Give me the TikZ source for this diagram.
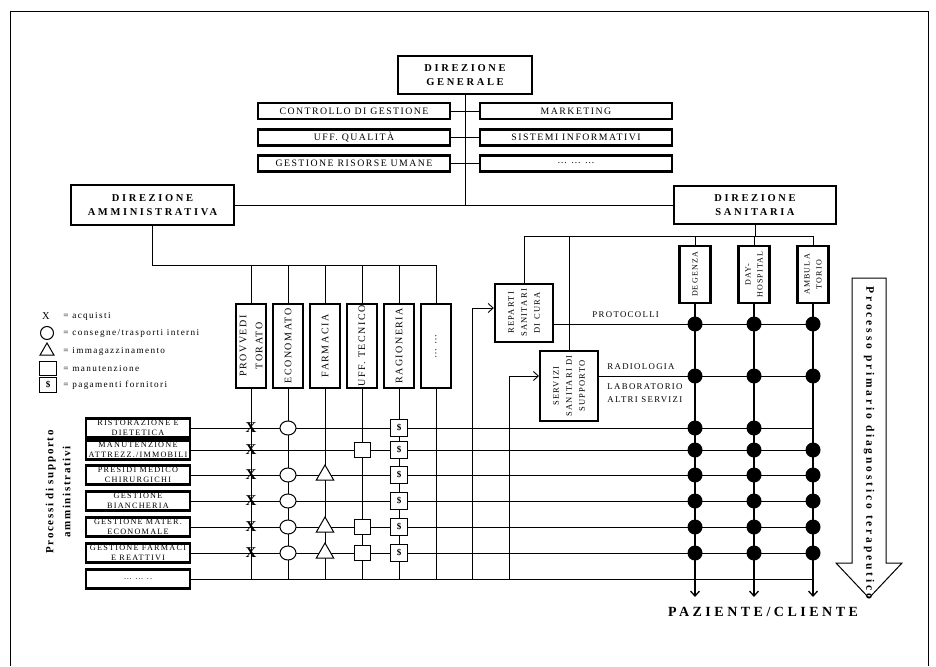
\documentclass[tikz,border=0pt]{standalone}
\usepackage{fontspec}
\setmainfont{Liberation Serif}
\newfontfamily\spaced[LetterSpace=15]{Liberation Serif}
\newfontfamily\wide[LetterSpace=25]{Liberation Serif}
\usetikzlibrary{arrows.meta,shapes.geometric}

\tikzset{
  dirbox/.style={draw,line width=2.6pt,fill=white,inner sep=1pt,align=center,
    font=\wide\bfseries\fontsize{10.5}{14}\selectfont},
  staffbox/.style={draw,line width=2.2pt,fill=white,inner sep=0pt,
    minimum width=192,minimum height=16,font=\spaced\fontsize{9.8}{10}\selectfont},
  unitbox/.style={draw,line width=2.4pt,fill=white,rotate=90,inner sep=0pt,align=center,
    minimum width=84,minimum height=30,font=\spaced\fontsize{10}{16}\selectfont},
  wardbox/.style={unitbox,minimum width=57,minimum height=31,font=\spaced\fontsize{8}{12}\selectfont},
  procbox/.style={draw,line width=2.2pt,fill=white,inner sep=0pt,align=center,
    minimum width=104,minimum height=19,font=\spaced\fontsize{8.2}{9.5}\selectfont},
  lbl/.style={inner sep=0pt,align=left,font=\spaced\fontsize{8.8}{12.5}\selectfont},
  xmark/.style={inner sep=0pt,font=\bfseries\fontsize{15}{15}\selectfont},
  ring/.style={draw,ellipse,fill=white,minimum width=16,minimum height=14,inner sep=0pt,line width=1pt},
  stock/.style={draw,regular polygon,regular polygon sides=3,fill=white,minimum size=20,inner sep=0pt,line width=1pt},
  fix/.style={draw,fill=white,minimum width=16,minimum height=15,inner sep=0pt,line width=1pt},
  pay/.style={fix,minimum width=17,minimum height=17,font=\bfseries\fontsize{9}{9}\selectfont},
  dot/.style={circle,fill=black,minimum size=15,inner sep=0pt},
  outarrow/.style={-{Straight Barb[length=5pt,width=9pt]}},
}

\begin{document}
\begin{tikzpicture}[x=1pt,y=-1pt,line width=0.9pt]
\useasboundingbox (0,0) rectangle (936,666);
\draw[line width=1pt] (10,666) -- (10,12) -- (928,12) -- (928,666);

% vertice
\node[dirbox,minimum width=134,minimum height=38] (dg) at (465,75) {DIREZIONE\\GENERALE};
\node[staffbox] (cg) at (354,111) {CONTROLLO DI GESTIONE};
\node[staffbox] (mk) at (576,111) {MARKETING};
\node[staffbox] (uq) at (354,137.5) {UFF. QUALITÀ};
\node[staffbox] (si) at (576,137.5) {SISTEMI INFORMATIVI};
\node[staffbox] (gr) at (354,163.5) {GESTIONE RISORSE UMANE};
\node[staffbox] (ec) at (576,163.5) {\dots\ \dots\ \dots};
\node[dirbox,minimum width=163,minimum height=40] (da) at (152.5,205) {DIREZIONE\\AMMINISTRATIVA};
\node[dirbox,minimum width=162,minimum height=38] (ds) at (755,205) {DIREZIONE\\SANITARIA};

\draw (dg.south) -- (dg.south |- da.east);
\draw (da) -- (ds);
\foreach \l/\r in {cg/mk,uq/si,gr/ec}
  \draw (\l.east) -- (\r.west);

% direzione amministrativa: uffici
\coordinate (ammbus) at (436,265);
\coordinate (gridbot) at (813,579);
\draw (da.south) |- (ammbus);
\foreach \txt [count=\i] in {{PROVVEDI\\TORATO},ECONOMATO,FARMACIA,{UFF. TECNICO},RAGIONERIA,{\dots\ \dots}}{
  \node[unitbox] (col\i) at (214+37*\i,346) {\txt};
  \draw (col\i.east) -- (col\i.east |- ammbus);
  \draw (col\i.west) -- (col\i.west |- gridbot);
}

% processi di supporto
\foreach \y/\txt [count=\r] in {428/{RISTORAZIONE E\\DIETETICA},450/{MANUTENZIONE\\ATTREZZ./IMMOBILI},
    475/{PRESIDI MEDICO\\CHIRURGICHI},501/{GESTIONE\\BIANCHERIA},527/{GESTIONE MATER.\\ECONOMALE},
    553/{GESTIONE FARMACI\\E REATTIVI},579/{\dots\ \dots\ ..}}{
  \node[procbox] (row\r) at (138,\y) {\txt};
  \draw (row\r.east) -- (row\r.east -| gridbot);
}
\node[rotate=90,align=center,font=\spaced\bfseries\fontsize{11}{17}\selectfont] (supp) at (58,492)
  {Processi di supporto\\amministrativi};

% direzione sanitaria
\coordinate (sanbus) at (523,236);
\coordinate (prot) at (813,324);
\coordinate (radio) at (813,376);
\coordinate (outp) at (813,597);
\coordinate (feedA) at (472,579);
\coordinate (feedB) at (509,579);
\node[unitbox,minimum width=58,minimum height=58,font=\spaced\fontsize{8.5}{13}\selectfont] (rep) at (524,313)
  {REPARTI\\SANITARI\\DI CURA};
\node[unitbox,line width=2pt,minimum width=70,minimum height=58,font=\spaced\fontsize{8.5}{13}\selectfont] (srv) at (569,386)
  {SERVIZI\\SANITARI DI\\SUPPORTO};
\node[wardbox] (deg) at (695,274.5) {DEGENZA};
\node[wardbox] (dh) at (754,274.5) {DAY-\\HOSPITAL};
\node[wardbox] (amb) at (813,274.5) {AMBULA\\TORIO};

\draw (ds.south) -- (ds.south |- sanbus);
\draw (rep.east) -- (rep.east |- sanbus) -| (amb.east);
\foreach \c in {srv,deg,dh}
  \draw (\c.east) -- (\c.east |- sanbus);
\draw (prot -| rep.south) -- (prot);
\draw (radio -| srv.south) -- (radio);
\draw[outarrow] (feedA) |- ([yshift=5pt]rep.north);
\draw[outarrow] (feedB) |- (radio -| srv.north);
\foreach \c in {deg,dh,amb}
  \draw[outarrow,line width=1.3pt] (\c.west) -- (\c.west |- outp);

\node[lbl,anchor=west] (protl) at (592,315) {PROTOCOLLI};
\node[lbl,anchor=west] (radl) at (607,367) {RADIOLOGIA};
\node[lbl,anchor=west] (labl) at (607,393) {LABORATORIO\\ALTRI SERVIZI};

% attivita' sui processi
\foreach \r in {1,...,6}{
  \node[xmark] at (col1 |- row\r) {X};
  \node[pay] at (col5 |- row\r) {\raisebox{-4pt}{\$}};
}
\foreach \r in {1,3,4,5,6}
  \node[ring] at (col2 |- row\r) {};
\foreach \r in {3,5,6}
  \node[stock] at (col3 |- row\r) {};
\foreach \r in {2,5,6}
  \node[fix] at (col4 |- row\r) {};

% incroci area sanitaria
\foreach \c in {deg,dh,amb}{
  \node[dot] at (\c |- prot) {};
  \node[dot] at (\c |- radio) {};
  \foreach \r in {2,...,6}
    \node[dot] at (\c |- row\r) {};
}
\node[dot] at (deg |- row1) {};
\node[dot] at (dh |- row1) {};

% legenda
\node[inner sep=0pt,font=\fontsize{10.5}{10}\selectfont] (lx) at (46,316) {X};
\node[ring,minimum width=13,minimum height=13] (lc) at (47,333) {};
\node[stock,minimum size=16] (lt) at (47,351) {};
\node[fix,minimum width=17,minimum height=14] (ls) at (48,368) {};
\node[pay,minimum height=15] (lp) at (48,385) {\raisebox{-4pt}{\$}};
\foreach \n/\txt in {lx/acquisti,lc/{consegne/trasporti interni},lt/immagazzinamento,ls/manutenzione,lp/pagamenti fornitori}
  \node[anchor=west,inner sep=0pt,font=\spaced\fontsize{9.2}{10}\selectfont] at (63,0 |- \n) {= \txt};

% processo primario
\draw[line width=1pt] (852,278) -- (886,278) -- (886,563) -- (902,563) -- (869,598)
  -- (836,563) -- (852,563) -- cycle;
\node[rotate=-90,inner sep=0pt,font=\wide\bfseries\fontsize{11.5}{12}\selectfont] (ppd) at (869,443)
  {Processo primario diagnostico terapeutico};
\node[inner sep=0pt,font=\wide\bfseries\fontsize{14}{16}\selectfont] (paz) at (763,612) {PAZIENTE/CLIENTE};
\end{tikzpicture}
\end{document}
